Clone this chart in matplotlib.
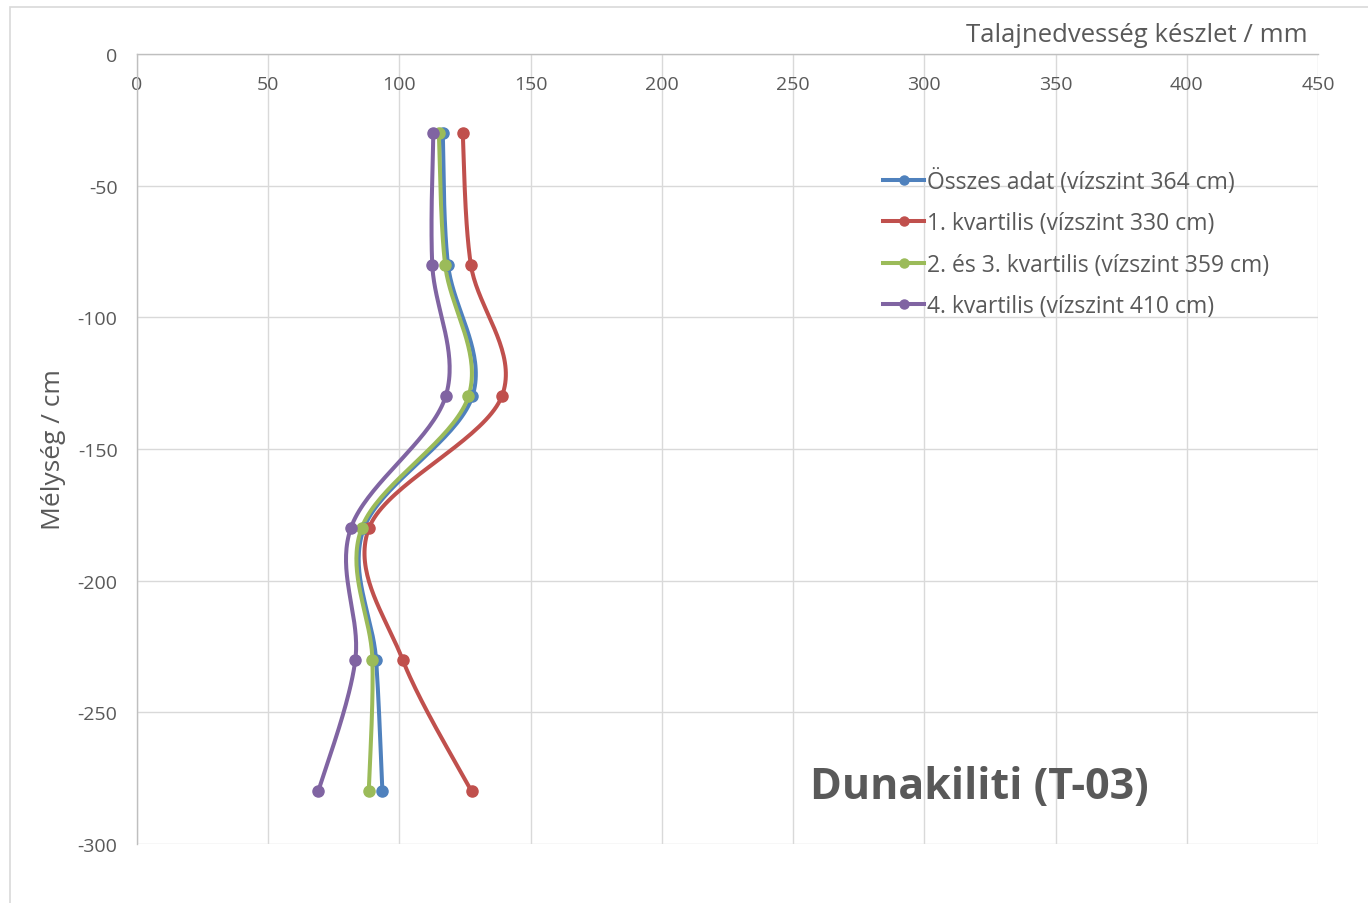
import matplotlib
matplotlib.use("Agg")
import matplotlib.pyplot as plt
from matplotlib.patches import Rectangle
import numpy as np

plt.rcParams['font.family'] = ['Open Sans', 'DejaVu Sans']
plt.rcParams['axes.unicode_minus'] = False

# depths (cm) and soil moisture stock (mm) per group
depth = [-30, -80, -130, -180, -230, -280]
osszes = [116.5, 118.5, 127.8, 86.5, 91.1, 93.5]
kv1 = [124.1, 127.2, 139.0, 88.4, 101.2, 127.5]
kv23 = [115.0, 117.4, 126.3, 85.6, 89.7, 88.3]
kv4 = [112.9, 112.5, 117.6, 81.5, 83.2, 69.1]

labels = ['Összes adat (vízszint 364 cm)',
          '1. kvartilis (vízszint 330 cm)',
          '2. és 3. kvartilis (vízszint 359 cm)',
          '4. kvartilis (vízszint 410 cm)']
colors = ['#4F81BD', '#C0504D', '#9BBB59', '#8064A2']

xticks = list(range(0, 451, 50))
yticks = list(range(0, -301, -50))

txt = '#595959'
grid = '#D9D9D9'


def smooth(x, y, n=40):
    # Bezier smoothing like spreadsheet "smoothed line" charts
    p = np.column_stack([x, y]).astype(float)
    out = [p[0]]
    for i in range(len(p) - 1):
        p0 = p[i - 1] if i > 0 else p[i]
        p3 = p[i + 2] if i + 2 < len(p) else p[i + 1]
        c1 = p[i] + (p[i + 1] - p0) / 6.0
        c2 = p[i + 1] - (p3 - p[i]) / 6.0
        t = np.linspace(0, 1, n)[1:, None]
        seg = ((1 - t) ** 3) * p[i] + 3 * ((1 - t) ** 2) * t * c1 \
            + 3 * (1 - t) * t ** 2 * c2 + t ** 3 * p[i + 1]
        out.extend(seg)
    out = np.array(out)
    return out[:, 0], out[:, 1]


fig = plt.figure(figsize=(13.68, 9.04), dpi=100)
ax = fig.add_axes([137 / 1368, 1 - 845 / 904, (1318 - 137) / 1368, (845 - 55) / 904])

# outer chart border
fig.patches.append(Rectangle((10 / 1368, -0.01), 1.1, 1 - 8 / 904 + 0.01,
                             transform=fig.transFigure, fill=False,
                             edgecolor='#D9D9D9', lw=1.2))

for vals, lab, c in zip([osszes, kv1, kv23, kv4], labels, colors):
    sx, sy = smooth(vals, depth)
    ax.plot(sx, sy, color=c, lw=2.9, solid_capstyle='round', zorder=3)
    ax.plot(vals, depth, 'o', color=c, ms=8, zorder=4)
    ax.plot([], [], color=c, lw=2.9, marker='o', ms=6.5, label=lab)

ax.set_xlim(0, 450)
ax.set_ylim(-300, 0)
ax.set_xticks(xticks)
ax.set_yticks(yticks)
ax.grid(True, color=grid, lw=1)
ax.set_axisbelow(True)
for s in ['right', 'bottom']:
    ax.spines[s].set_visible(False)
for s in ['top', 'left']:
    ax.spines[s].set_color('#BFBFBF')
    ax.spines[s].set_linewidth(1)

ax.xaxis.set_ticks_position('top')
ax.tick_params(axis='x', length=0, labelsize=14, labelcolor=txt, pad=-28)
ax.tick_params(axis='y', length=0, labelsize=14, labelcolor=txt, pad=14)

fig.text(1308 / 1368, 1 - 35 / 904, 'Talajnedvesség készlet / mm', ha='right',
         va='center', fontsize=18.5, color=txt)
fig.text(53 / 1368, 1 - 450 / 904, 'Mélység / cm', rotation=90, ha='center',
         va='center', fontsize=19, color=txt)
ax.text(321, -278, 'Dunakiliti (T-03)', ha='center', va='center',
        fontsize=31, fontweight='bold', color=txt)

leg = ax.legend(loc='upper left', bbox_to_anchor=((874 - 137) / 1181, (845 - 160) / 790),
                frameon=False, fontsize=16.5, handlelength=1.8, handletextpad=0.1,
                labelspacing=0.75, borderaxespad=0)
for t in leg.get_texts():
    t.set_color(txt)

fig.savefig('out.png', dpi=100)
